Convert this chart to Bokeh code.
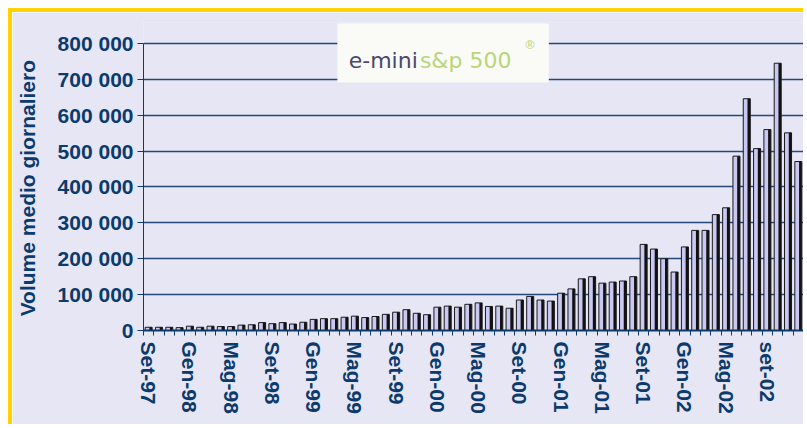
from bokeh.plotting import figure
from bokeh.models import FixedTicker, ColumnDataSource, Range1d, BoxAnnotation, Label
from bokeh.embed import file_html
from bokeh.resources import INLINE
from bokeh.transform import dodge

# Average daily volume, thousands of contracts, monthly Set-97 .. Dic-02
volumes_k = [9, 9, 9, 8, 12, 9, 12, 11, 11, 15, 16, 22, 19, 22, 18, 23,
             31, 33, 33, 37, 40, 36, 39, 45, 51, 58, 48, 44, 65, 68, 65, 73,
             77, 67, 68, 62, 85, 95, 85, 82, 104, 116, 144, 150, 132, 135, 138, 150,
             240, 227, 200, 163, 233, 279, 279, 323, 342, 486, 646, 507, 560, 745, 551, 471]

tick_labels = ["Set-97", "Gen-98", "Mag-98", "Set-98", "Gen-99", "Mag-99", "Set-99",
               "Gen-00", "Mag-00", "Set-00", "Gen-01", "Mag-01", "Set-01", "Gen-02",
               "Mag-02", "set-02"]
label_step = 4

y_ticks = [0, 100000, 200000, 300000, 400000, 500000, 600000, 700000, 800000]
y_tick_labels = ["0", "100 000", "200 000", "300 000", "400 000", "500 000",
                 "600 000", "700 000", "800 000"]
y_title = "Volume medio giornaliero"

NAVY = "#0B3A6C"
BG = "#E6E6F5"
FONT = "Liberation Sans"

n = len(volumes_k)
xs = list(range(n))
vols = [v * 1000 for v in volumes_k]
src = ColumnDataSource(dict(x=xs, v=vols))

p = figure(width=795, height=416, output_backend="svg", toolbar_location=None,
           x_range=Range1d(-0.5, n - 0.5), y_range=Range1d(0, 858500),
           min_border_left=131, min_border_right=4, min_border_top=10,
           min_border_bottom=98)
p.styles = {"margin-left": "8px", "margin-top": "8px",
            "border-left": "4px solid #FFD200", "border-top": "4px solid #FFD200"}
p.background_fill_color = BG
p.border_fill_color = BG
p.outline_line_color = None

# bars with pseudo-3D dark side
p.vbar(x="x", top="v", width=0.68, source=src, fill_color="#C8C8F2",
       line_color="#1a1a1a", line_width=1)
p.vbar(x=dodge("x", 0.2, range=p.x_range), top="v", width=0.26, source=src,
       fill_color="#111111", line_color=None)

# x axis
major = [i * label_step for i in range(len(tick_labels))]
minor = [i - 0.5 for i in range(n + 1)]
p.xaxis.ticker = FixedTicker(ticks=major, minor_ticks=minor)
p.xaxis.major_label_overrides = {m: t for m, t in zip(major, tick_labels)}
p.xaxis.major_label_orientation = "vertical"
p.xaxis.major_tick_out = 0
p.xaxis.major_tick_in = 0
p.xaxis.minor_tick_out = 5
p.xaxis.minor_tick_in = 0
p.xaxis.minor_tick_line_color = NAVY
p.xaxis.axis_line_color = NAVY
p.xaxis.axis_line_width = 2
p.xaxis.major_label_standoff = 6
p.xaxis.major_label_text_font = FONT
p.xaxis.major_label_text_font_style = "bold"
p.xaxis.major_label_text_font_size = "21px"
p.xaxis.major_label_text_color = NAVY
p.xgrid.visible = False

# y axis
p.yaxis.ticker = FixedTicker(ticks=y_ticks)
p.yaxis.bounds = (0, 800000)
p.yaxis.major_label_overrides = {t: l for t, l in zip(y_ticks, y_tick_labels)}
p.yaxis.minor_tick_line_color = None
p.yaxis.major_tick_out = 6
p.yaxis.major_tick_in = 0
p.yaxis.major_tick_line_color = NAVY
p.yaxis.axis_line_color = NAVY
p.yaxis.major_label_standoff = 4
p.yaxis.major_label_text_font = FONT
p.yaxis.major_label_text_font_style = "bold"
p.yaxis.major_label_text_font_size = "21px"
p.yaxis.major_label_text_color = NAVY
# trailing no-break spaces shift the title's centre onto the 0..800 000 span
p.yaxis.axis_label = y_title + "\u00a0" * 4
p.yaxis.axis_label_text_font = FONT
p.yaxis.axis_label_text_font_style = "bold"
p.yaxis.axis_label_text_font_size = "21px"
p.yaxis.axis_label_text_color = NAVY
p.yaxis.axis_label_standoff = 16
p.ygrid.ticker = FixedTicker(ticks=y_ticks)
p.ygrid.grid_line_color = "#24487A"
p.ygrid.grid_line_width = 1.5

# logo
LOGO_FONT = "DejaVu Sans"
p.add_layout(BoxAnnotation(left=18.3, right=38.8, bottom=691300, top=855700,
                           fill_color="#FAFAF6", fill_alpha=1, line_color=None))
p.add_layout(Label(x=19.4, y=752600, text="e-mini", text_font=LOGO_FONT,
                   text_font_size="22px", text_color="#4A4870",
                   text_baseline="alphabetic"))
p.add_layout(Label(x=26.3, y=752600, text="s&p 500", text_font=LOGO_FONT,
                   text_font_size="22px", text_color="#B9D67A",
                   text_baseline="alphabetic"))
p.add_layout(Label(x=36.4, y=795000, text="®", text_font=LOGO_FONT,
                   text_font_size="12px", text_color="#B9D67A",
                   text_baseline="alphabetic"))

open("out.html", "w").write(file_html(p, INLINE))
